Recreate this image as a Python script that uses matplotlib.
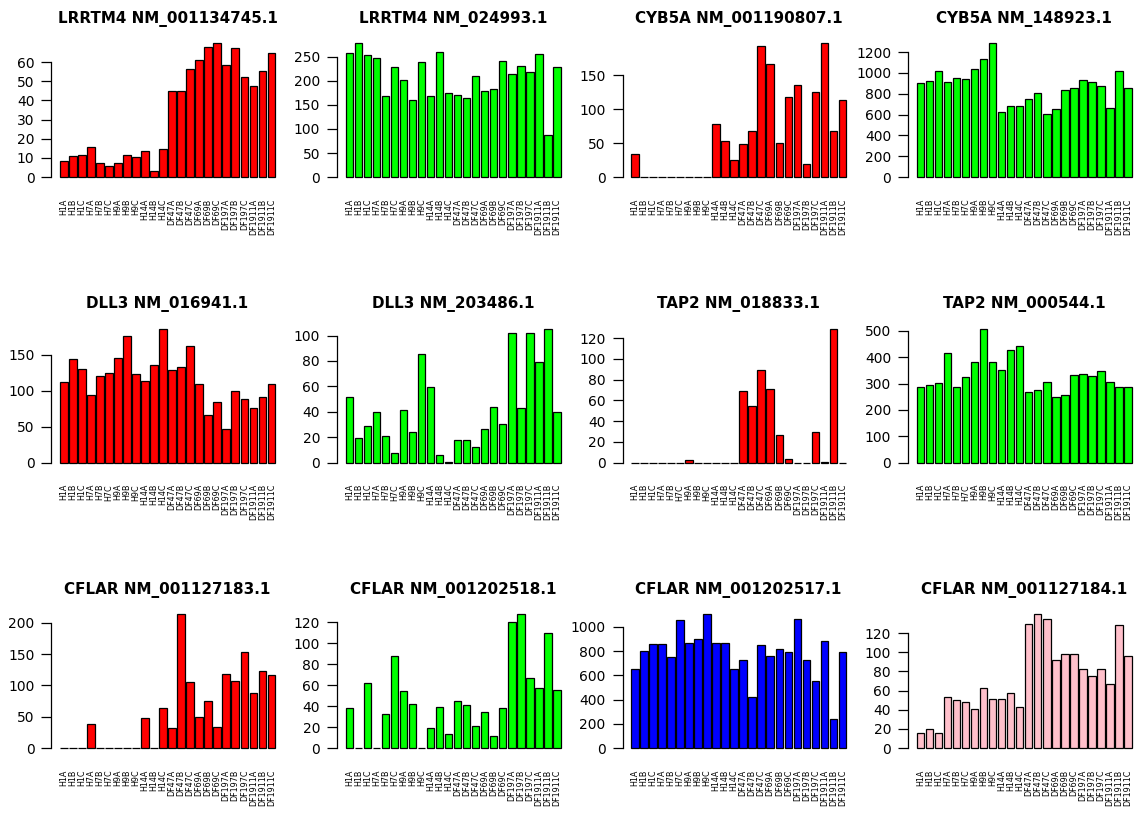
import matplotlib
matplotlib.use("Agg")
import matplotlib.pyplot as plt
import numpy as np

plt.rcParams["font.family"] = "DejaVu Sans"

samples = ["H1A", "H1B", "H1C", "H7A", "H7B", "H7C", "H9A", "H9B", "H9C",
           "H14A", "H14B", "H14C", "DF47A", "DF47B", "DF47C", "DF69A", "DF69B",
           "DF69C", "DF197A", "DF197B", "DF197C", "DF1911A", "DF1911B", "DF1911C"]

lrrtm4_nm_001134745 = [8.5, 11.0, 11.3, 15.7, 7.3, 5.8, 7.5, 11.3, 10.6, 13.4, 3.3, 14.8,
                       44.9, 45.0, 56.5, 61.3, 67.9, 69.8, 58.6, 67.2, 52.4, 47.8, 55.5, 64.7]
lrrtm4_nm_024993 = [257.6, 277.8, 252.8, 246.5, 169.4, 227.8, 200.7, 159.7, 239.6, 168.8, 260.4, 175.0,
                    170.0, 164.6, 209.0, 179.9, 182.0, 241.0, 213.9, 231.3, 218.0, 255.6, 87.5, 227.8]
cyb5a_nm_001190807 = [33.4, 0, 0, 0, 0, 0, 0, 0, 0, 78.7, 53.6, 25.6,
                      49.2, 67.4, 192.8, 166.7, 49.7, 117.6, 135.3, 18.7, 124.9, 196.8, 67.4, 113.6]
cyb5a_nm_148923 = [905, 924, 1017, 908, 946, 940, 1033, 1136, 1283, 626, 680, 687,
                   748, 809, 606, 655, 837, 853, 927, 914, 873, 664, 1017, 853]
dll3_nm_016941 = [112.0, 144.0, 130.0, 94.0, 120.0, 125.0, 145.4, 175.0, 123.6, 113.4, 135.2, 185.6,
                  128.7, 132.4, 162.5, 109.7, 66.7, 84.3, 46.3, 100.0, 88.0, 75.9, 91.7, 109.7]
dll3_nm_203486 = [51.8, 19.2, 28.7, 40.0, 21.3, 7.9, 41.8, 24.0, 85.3, 59.7, 5.8, 0.4,
                  17.6, 18.2, 12.1, 26.8, 43.9, 30.3, 102.0, 42.9, 102.0, 79.2, 105.3, 40.0]
tap2_nm_018833 = [0, 0, 0, 0, 0, 0, 2.2, 0, 0, 0, 0, 0,
                  69.5, 54.7, 89.8, 71.1, 26.7, 3.5, 0, 0, 29.9, 1.0, 129.0, 0]
tap2_nm_000544 = [288.0, 295.7, 300.8, 417.5, 288.0, 324.9, 380.7, 507.6, 380.7, 352.8, 427.7, 441.6,
                  266.5, 275.4, 307.0, 250.0, 256.3, 332.5, 336.3, 327.4, 349.0, 307.0, 286.8, 286.8]
cflar_nm_001127183 = [0, 0, 0, 38.9, 0, 0, 0, 0, 0, 47.5, 0, 63.5,
                      31.5, 213.3, 106.0, 49.6, 74.7, 33.0, 117.9, 107.2, 152.5, 87.5, 122.7, 116.3]
cflar_nm_001202518 = [38.5, 0, 61.8, 0, 32.5, 87.3, 54.1, 42.4, 0, 19.4, 39.5, 13.4,
                      44.9, 40.8, 20.7, 34.7, 11.1, 38.5, 120.4, 127.4, 67.2, 57.6, 109.6, 55.1]
cflar_nm_001202517 = [650, 804, 854, 854, 749, 1055, 868, 895, 1102, 868, 862, 650,
                      730, 419, 846, 758, 818, 788, 1063, 730, 556, 879, 237, 796]
cflar_nm_001127184 = [16.0, 20.2, 15.7, 53.4, 50.6, 48.1, 40.5, 62.8, 51.3, 51.3, 57.2, 42.6,
                      129.4, 139.5, 135.0, 92.4, 98.0, 98.4, 82.7, 75.3, 83.0, 67.3, 128.7, 95.9]

titles = ["LRRTM4 NM_001134745.1", "LRRTM4 NM_024993.1", "CYB5A NM_001190807.1", "CYB5A NM_148923.1",
          "DLL3 NM_016941.1", "DLL3 NM_203486.1", "TAP2 NM_018833.1", "TAP2 NM_000544.1",
          "CFLAR NM_001127183.1", "CFLAR NM_001202518.1", "CFLAR NM_001202517.1", "CFLAR NM_001127184.1"]
series = [lrrtm4_nm_001134745, lrrtm4_nm_024993, cyb5a_nm_001190807, cyb5a_nm_148923,
          dll3_nm_016941, dll3_nm_203486, tap2_nm_018833, tap2_nm_000544,
          cflar_nm_001127183, cflar_nm_001202518, cflar_nm_001202517, cflar_nm_001127184]
colors = ["#FF0000", "#00FF00", "#FF0000", "#00FF00",
          "#FF0000", "#00FF00", "#FF0000", "#00FF00",
          "#FF0000", "#00FF00", "#0000FF", "#FFC0CB"]
tick_steps = [10, 50, 50, 200, 50, 20, 20, 100, 50, 20, 200, 20]

W, H = 1135, 813
fig = plt.figure(figsize=(W / 100, H / 100), dpi=100)

# barplot-style geometry: width 1, space 0.2, 4% padding on both axes
n = len(samples)
centres = 0.2 + 1.2 * np.arange(n) + 0.5
span = 1.2 * n - 0.2
xlo, xhi = 0.2 - 0.04 * span, 1.2 * n + 0.04 * span

for k, (title, vals, col, step) in enumerate(zip(titles, series, colors, tick_steps)):
    r, c = divmod(k, 4)
    left = 51.4 + 285.55 * c
    top = 38.0 + 285.5 * r
    ax = fig.add_axes([left / W, 1 - (top + 144.5) / H, 232.3 / W, 144.5 / H])
    ax.patch.set_visible(False)
    vals = np.asarray(vals, dtype=float)
    ymax = vals.max()
    ax.bar(centres, vals, width=1.0, color=col, edgecolor="black", linewidth=0.9)
    ax.set_xlim(xlo, xhi)
    ax.set_ylim(-0.04 * ymax, 1.04 * ymax)

    ticks = np.arange(0, ymax + 1e-9, step)
    ax.set_yticks(ticks)
    ax.set_yticklabels([f"{t:g}" for t in ticks])
    ax.spines["left"].set_bounds(0, ticks[-1])
    ax.spines["left"].set_linewidth(0.9)
    for s in ("top", "right", "bottom"):
        ax.spines[s].set_visible(False)

    ax.set_xticks(centres)
    ax.set_xticklabels(samples, rotation=90, fontsize=5.8)
    ax.tick_params(axis="x", length=0, pad=11.5)
    ax.tick_params(axis="y", length=7.2, width=0.9, pad=5, labelsize=10)
    ax.set_title(title, fontweight="bold", fontsize=10.9, pad=10.8)

fig.savefig("out.png", dpi=100)
